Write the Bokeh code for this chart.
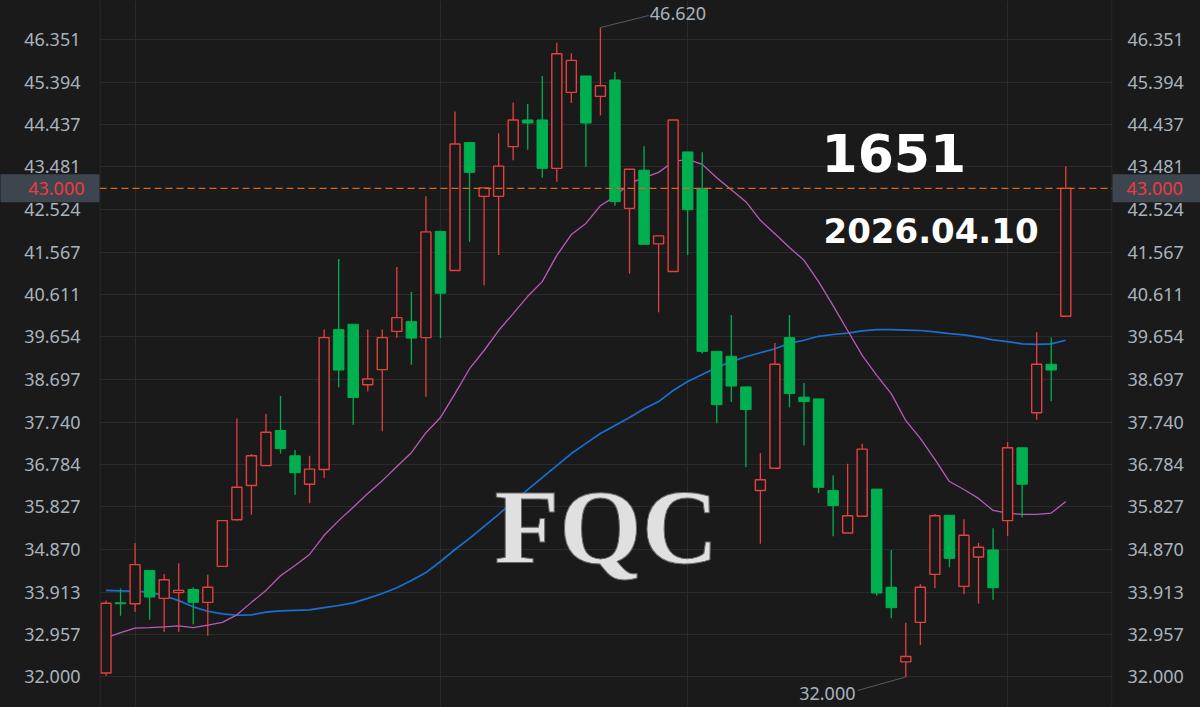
import numpy as np
from bokeh.plotting import figure
from bokeh.models import (ColumnDataSource, Range1d, LinearAxis, FixedTicker,
                          PrintfTickFormatter, Grid, Span, Label)
from bokeh.core.properties import value
from bokeh.embed import file_html
from bokeh.resources import INLINE

# ---------------- data ----------------
opens = [32.09, 33.67, 33.65, 34.40, 33.77, 33.90, 33.97, 33.68, 34.49, 35.54,
         36.31, 36.76, 37.55, 36.98, 36.34, 36.67, 39.82, 39.94, 38.58, 38.92,
         39.78, 40.00, 39.64, 42.03, 41.15, 44.03, 42.82, 42.82, 43.94, 44.54,
         44.54, 43.45, 45.16, 45.53, 45.07, 45.44, 42.55, 43.41, 41.75, 41.13,
         43.82, 43.00, 39.33, 39.22, 38.53, 36.20, 36.70, 39.64, 38.30, 38.26,
         36.20, 35.24, 35.62, 36.23, 34.02, 32.34, 33.23, 34.31, 35.64, 34.04,
         34.70, 34.86, 35.52, 37.16, 37.95, 39.04, 40.12]
highs = [33.72, 33.99, 35.01, 34.40, 34.32, 34.56, 34.02, 34.30, 35.52, 37.82,
         37.02, 37.92, 38.33, 37.11, 36.98, 39.82, 41.41, 39.94, 39.82, 39.82,
         41.23, 40.67, 42.82, 42.03, 44.73, 44.03, 43.01, 44.24, 44.93, 44.90,
         45.53, 46.28, 46.04, 45.53, 46.62, 45.62, 43.43, 43.95, 41.93, 44.54,
         43.82, 43.81, 39.33, 40.15, 38.53, 37.04, 39.52, 40.15, 38.62, 38.26,
         36.54, 36.80, 37.25, 36.23, 34.86, 33.22, 34.09, 35.67, 35.64, 35.55,
         35.02, 35.35, 37.29, 37.16, 39.76, 39.64, 43.50]
lows = [32.03, 33.38, 33.47, 33.29, 33.02, 33.02, 33.18, 32.93, 34.49, 35.52,
        35.65, 36.76, 37.03, 36.10, 35.91, 36.48, 38.52, 37.68, 38.43, 37.53,
        39.63, 39.03, 38.31, 39.63, 41.15, 41.80, 40.82, 41.50, 43.63, 43.87,
        43.24, 43.15, 44.92, 43.48, 44.64, 42.61, 41.08, 41.74, 40.21, 41.13,
        41.50, 39.28, 37.71, 38.19, 36.72, 35.00, 36.70, 38.07, 37.21, 36.14,
        35.17, 35.24, 35.62, 33.83, 33.32, 32.00, 32.72, 34.00, 34.47, 33.87,
        33.65, 33.74, 35.17, 35.59, 37.79, 38.21, 40.12]
closes = [33.66, 33.65, 34.53, 33.80, 34.19, 33.95, 33.68, 34.02, 35.52, 36.27,
          36.98, 37.51, 37.14, 36.60, 36.68, 39.64, 38.91, 38.29, 38.71, 39.64,
          40.09, 39.63, 42.02, 40.64, 44.00, 43.36, 43.01, 43.50, 44.54, 44.47,
          43.45, 46.03, 45.88, 44.47, 45.31, 42.70, 43.43, 41.74, 41.93, 44.54,
          42.52, 39.33, 38.13, 38.55, 38.02, 36.44, 39.04, 38.38, 38.20, 36.27,
          35.86, 35.63, 37.13, 33.89, 33.56, 32.46, 34.02, 35.63, 34.67, 35.19,
          34.92, 34.01, 37.16, 36.34, 39.04, 38.91, 43.00]
ma_pink = [32.88, 33.00, 33.10, 33.11, 33.13, 33.15, 33.11, 33.17, 33.23, 33.40,
           33.68, 33.95, 34.28, 34.51, 34.76, 35.19, 35.52, 35.82, 36.13, 36.42,
           36.74, 37.05, 37.50, 37.84, 38.38, 38.94, 39.35, 39.80, 40.18, 40.57,
           40.90, 41.49, 41.96, 42.21, 42.61, 42.82, 43.11, 43.24, 43.36, 43.60,
           43.65, 43.54, 43.24, 42.97, 42.70, 42.28, 41.98, 41.67, 41.38, 40.90,
           40.36, 39.80, 39.24, 38.79, 38.38, 37.77, 37.37, 36.90, 36.40, 36.22,
           36.02, 35.75, 35.69, 35.66, 35.66, 35.69, 35.95]
ma_blue = [33.95, 33.94, 33.93, 33.91, 33.83, 33.72, 33.58, 33.48, 33.42, 33.39,
           33.40, 33.46, 33.49, 33.50, 33.51, 33.56, 33.61, 33.67, 33.77, 33.88,
           34.01, 34.17, 34.35, 34.60, 34.87, 35.12, 35.39, 35.66, 35.95, 36.22,
           36.49, 36.76, 37.03, 37.26, 37.48, 37.66, 37.84, 38.04, 38.20, 38.45,
           38.65, 38.81, 38.97, 39.10, 39.21, 39.30, 39.39, 39.51, 39.58, 39.67,
           39.71, 39.74, 39.79, 39.82, 39.82, 39.81, 39.80, 39.77, 39.73, 39.70,
           39.65, 39.59, 39.55, 39.50, 39.49, 39.50, 39.58]
tick_labels = ["32.000", "32.957", "33.913", "34.870", "35.827", "36.784",
               "37.740", "38.697", "39.654", "40.611", "41.567", "42.524",
               "43.481", "44.437", "45.394", "46.351"]
month_starts = [2, 23, 40, 62]
stock_code = "1651"
date_text = "2026.04.10"
watermark = "FQC"

# ---------------- style / layout ----------------
BG = "#1a1a1a"
GRID = "#2a2a2a"
RED = "#e4403f"
GREEN = "#00b050"
PINK = "#b85cb8"
BLUE = "#1a6fd4"
AXIS_TXT = "#a9b3be"
BOX = "#3d454e"
FONT = "Noto Sans"

W, H = 1200, 707
FL, FR = 99, 88
FW = W - FL - FR
STEP = 14.542           # px per candle
FIRST = 6.5             # px from frame left to first candle centre
xs = -FIRST / STEP
xe = xs + FW / STEP
ys, ye = 31.3134, 47.2289
PX_X = FW / (xe - xs)
PX_Y = H / (ye - ys)

idx = np.arange(len(opens))
o = np.array(opens); c = np.array(closes); h = np.array(highs); l = np.array(lows)
up = c > o

p = figure(width=W, height=H, x_range=Range1d(xs, xe), y_range=Range1d(ys, ye),
           x_axis_location=None, y_axis_location=None,
           toolbar_location=None, output_backend="svg",
           min_border_left=FL, min_border_right=FR, min_border_top=0, min_border_bottom=0,
           background_fill_color=BG, border_fill_color=BG, outline_line_color=None)
p.xgrid.visible = False
p.ygrid.visible = False

tick_values = [float(t) for t in tick_labels]
p.add_layout(Grid(dimension=1, ticker=FixedTicker(ticks=tick_values),
                  grid_line_color=GRID, grid_line_width=1))
p.add_layout(Grid(dimension=0, ticker=FixedTicker(ticks=month_starts),
                  grid_line_color=GRID, grid_line_width=1))
for loc in (xs + 0.5 / PX_X, xe - 0.5 / PX_X):
    p.add_layout(Span(location=loc, dimension="height", line_color=GRID, line_width=1))

def make_axis(standoff):
    ax = LinearAxis(ticker=FixedTicker(ticks=tick_values),
                    formatter=PrintfTickFormatter(format="%.3f"))
    ax.axis_line_color = None
    ax.major_tick_line_color = None
    ax.minor_tick_line_color = None
    ax.major_tick_in = 0
    ax.major_tick_out = 0
    ax.minor_tick_in = 0
    ax.minor_tick_out = 0
    ax.major_label_standoff = standoff
    ax.major_label_text_color = AXIS_TXT
    ax.major_label_text_font = FONT
    ax.major_label_text_font_size = "18px"
    return ax

p.add_layout(make_axis(19), "left")
p.add_layout(make_axis(15), "right")

# moving averages
p.line(idx, ma_blue, line_color=BLUE, line_width=1.7)
p.line(idx, ma_pink, line_color=PINK, line_width=1.3)

# candles
src_up = ColumnDataSource(dict(x=idx[up], o=o[up], c=c[up], h=h[up], l=l[up]))
src_dn = ColumnDataSource(dict(x=idx[~up], o=o[~up], c=c[~up], h=h[~up], l=l[~up]))
p.segment(x0="x", y0="h", x1="x", y1="l", source=src_up, line_color=RED, line_width=1.3)
p.segment(x0="x", y0="h", x1="x", y1="l", source=src_dn, line_color=GREEN, line_width=1.3)
p.vbar(x="x", top="c", bottom="o", width=0.69, source=src_up,
       fill_color=BG, line_color=RED, line_width=1.4)
p.vbar(x="x", top="o", bottom="c", width=0.72, source=src_dn,
       fill_color=GREEN, line_color=GREEN, line_width=1.0)

# watermark (over the lines, as in the reference)
wm = Label(x=395, y=180, x_units="screen", y_units="screen", text=watermark,
           text_align="left", text_baseline="alphabetic", text_color="#e0e0e0",
           text_font="Liberation Serif", text_font_style="bold", text_font_size="106px")
if "text_outline_color" in Label.properties():
    wm.text_outline_color = "#6a6a6a"
p.add_layout(wm)

# last-price dashed line and boxes in the two axis gutters
last = closes[-1]
p.add_layout(Span(location=last, dimension="width", line_color="#d8681c",
                  line_width=1.3, line_dash="7 4"))
half = 14.0 / PX_Y
p.quad(left=[xs - FL / PX_X, xe], right=[xs, xe + FR / PX_X],
       top=[last + half] * 2, bottom=[last - half] * 2,
       fill_color=BOX, line_color=None, level="overlay")
p.text(x=[xs], y=[last], text=[f"{last:.3f}"], x_offset=-15,
       text_align="right", text_baseline="middle", text_color="#ee3b3f",
       text_font=value(FONT), text_font_size="18px", level="overlay")
p.text(x=[xe], y=[last], text=[f"{last:.3f}"], x_offset=14,
       text_align="left", text_baseline="middle", text_color="#ee3b3f",
       text_font=value(FONT), text_font_size="18px", level="overlay")

# max / min annotations
hi_i = int(np.argmax(h)); lo_i = int(np.argmin(l))
hx1 = hi_i + 48.4 / PX_X; hy1 = h[hi_i] + 12.0 / PX_Y
lx1 = lo_i - 48.3 / PX_X; ly1 = l[lo_i] - 13.5 / PX_Y
p.segment(x0=[hi_i, lo_i], y0=[h[hi_i], l[lo_i]], x1=[hx1, lx1], y1=[hy1, ly1],
          line_color="#555b62", line_width=1)
p.text(x=[hx1], y=[hy1], text=[f"{h[hi_i]:.3f}"], x_offset=1, y_offset=-2,
       text_align="left", text_baseline="middle", text_color=AXIS_TXT,
       text_font=value(FONT), text_font_size="18px")
p.text(x=[lx1], y=[ly1], text=[f"{l[lo_i]:.3f}"], x_offset=-2, y_offset=3,
       text_align="right", text_baseline="middle", text_color=AXIS_TXT,
       text_font=value(FONT), text_font_size="18px")

# overlay texts
p.add_layout(Label(x=722, y=555, x_units="screen", y_units="screen", text=stock_code,
                   text_align="left", text_baseline="alphabetic", text_color="#ffffff",
                   text_font="DejaVu Sans", text_font_style="bold", text_font_size="52px"))
p.add_layout(Label(x=724, y=477, x_units="screen", y_units="screen", text=date_text,
                   text_align="left", text_baseline="alphabetic", text_color="#ffffff",
                   text_font="DejaVu Sans", text_font_style="bold", text_font_size="34px"))

try:
    from bokeh.models import GlobalInlineStyleSheet
    p.stylesheets = [GlobalInlineStyleSheet(css="html, body { background-color: #1a1a1a; }")]
except Exception:
    pass

open("out.html", "w").write(file_html(p, INLINE))
